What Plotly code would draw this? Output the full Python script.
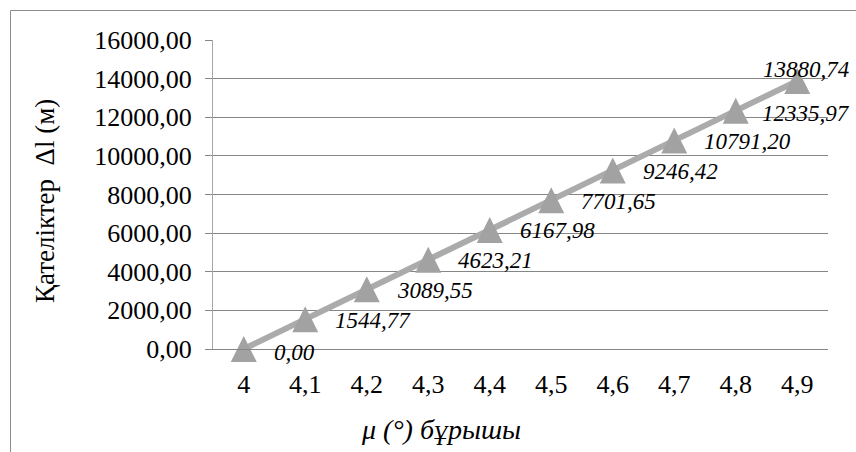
import plotly.graph_objects as go

# ---- data ----
categories = ["4", "4,1", "4,2", "4,3", "4,4", "4,5", "4,6", "4,7", "4,8", "4,9"]
errors = [0.00, 1544.77, 3089.55, 4623.21, 6167.98, 7701.65, 9246.42, 10791.20, 12335.97, 13880.74]
y_ticks = [0, 2000, 4000, 6000, 8000, 10000, 12000, 14000, 16000]
y_tick_text = ["%d,00" % v for v in y_ticks]
labels = [("%.2f" % v).replace(".", ",") for v in errors]

# ---- layout geometry (pixels) ----
W, H = 856, 452
L, R, T, B = 213, 28, 40, 103
plot_w = W - L - R
plot_h = H - T - B
y_min, y_max = 0, 16000
tri_size = 26
tri_shift = tri_size / 2  # centre arrow-up triangle on the point
d = tri_shift * (y_max - y_min) / plot_h

FONT = "Liberation Serif, Times New Roman, serif"

idx = list(range(len(categories)))

fig = go.Figure()
fig.add_trace(go.Scatter(
    x=idx, y=errors, mode="lines",
    line=dict(color="#ABABAB", width=6),
    hoverinfo="skip", showlegend=False,
))
fig.add_trace(go.Scatter(
    x=idx, y=errors, mode="markers", yaxis="y2", cliponaxis=False,
    marker=dict(symbol="arrow-up", size=tri_size, color="#A2A2A2", line=dict(width=0)),
    hoverinfo="skip", showlegend=False,
))

label_dx = [28, 28, 28, 28, 28, 28, 28, 28, 24, -36]
label_dy = [-3, -1, -1, -1, -1, -1, -1, -1, -3, 11]
for i, v, t, dx, dy in zip(idx, errors, labels, label_dx, label_dy):
    fig.add_annotation(
        x=i, y=v, xref="x", yref="y", text=t, showarrow=False,
        xanchor="left", yanchor="middle", xshift=dx, yshift=dy,
        font=dict(family=FONT, size=23, color="black", style="italic"),
    )

fig.add_annotation(
    x=(45 - L) / plot_w, y=(T + plot_h - 201) / plot_h, xref="paper", yref="paper",
    text="Қателіктер  Δl (м)", showarrow=False, textangle=-90,
    xanchor="center", yanchor="middle",
    font=dict(family=FONT, size=27, color="black"),
)
fig.add_annotation(
    x=(441 - L) / plot_w, y=(T + plot_h - 430) / plot_h, xref="paper", yref="paper",
    text="μ (°) бұрышы", showarrow=False,
    xanchor="center", yanchor="middle",
    font=dict(family=FONT, size=28, color="black", style="italic"),
)

fig.add_shape(
    type="rect", xref="paper", yref="paper",
    x0=(10.5 - L) / plot_w, x1=(880 - L) / plot_w,
    y0=(T + plot_h - 480) / plot_h, y1=(T + plot_h - 10.5) / plot_h,
    line=dict(color="#8C8C8C", width=1), fillcolor="rgba(0,0,0,0)", layer="below",
)

fig.update_layout(
    width=W, height=H,
    margin=dict(l=L, r=R, t=T, b=B, pad=0),
    paper_bgcolor="white", plot_bgcolor="white",
    showlegend=False,
    xaxis=dict(
        range=[-0.5, len(categories) - 0.5],
        tickvals=idx, ticktext=categories,
        showgrid=False, zeroline=False,
        showline=True, linecolor="#868686", linewidth=1,
        ticks="", ticklabelstandoff=12,
        tickfont=dict(family=FONT, size=26, color="black"),
    ),
    yaxis=dict(
        range=[y_min, y_max], tickvals=y_ticks, ticktext=y_tick_text,
        showgrid=True, gridcolor="#868686", gridwidth=1, zeroline=False,
        showline=True, linecolor="#A6A6A6", linewidth=1,
        ticks="outside", ticklen=7, tickcolor="#868686", ticklabelstandoff=8,
        tickfont=dict(family=FONT, size=26, color="black"),
    ),
    yaxis2=dict(
        range=[y_min - d, y_max - d], overlaying="y", visible=False,
    ),
)

fig.write_html("out.html")
